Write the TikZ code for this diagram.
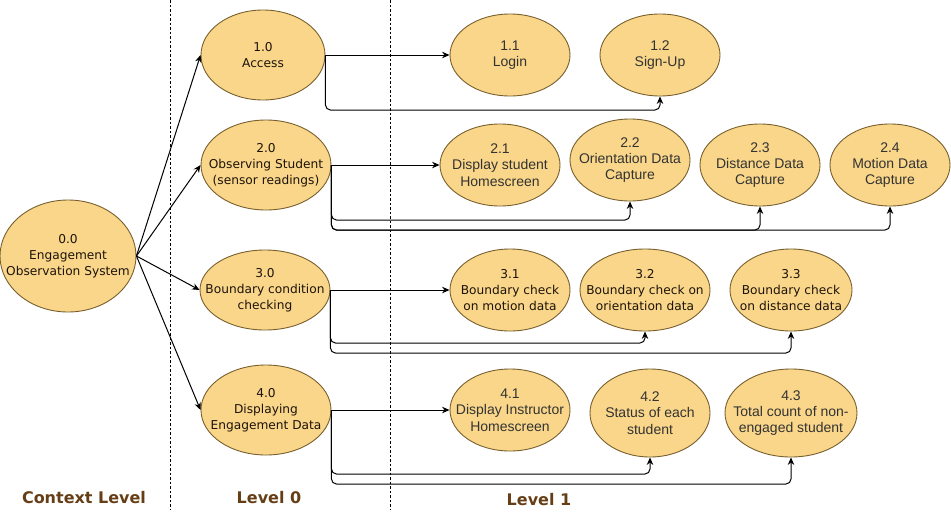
\documentclass[tikz,border=0pt]{standalone}
\usepackage{fontspec}
\setmainfont{Liberation Sans}
\newfontfamily\tahomalike{DejaVu Sans}
\usetikzlibrary{shapes.geometric}
\usetikzlibrary{arrows.meta}
\definecolor{procfill}{RGB}{249,214,137}
\definecolor{procline}{RGB}{120,95,45}
\definecolor{levelbrown}{RGB}{102,62,22}
\tikzset{proc/.style={ellipse,draw=procline,fill=procfill,inner sep=0pt,line width=0.9pt},
    lvlzero/.style={proc,minimum width=130,minimum height=90},
    lvlone/.style={proc,minimum width=120,minimum height=82},
    zerotext/.style={align=center,font=\tahomalike\fontsize{12.2}{16}\selectfont,text=black!85!brown},
    onetext/.style={align=center,font=\fontsize{14}{16.3}\selectfont,text=black!80},
    flow/.style={-{Stealth[length=7.5pt,width=6.5pt]},line width=1pt,rounded corners=5},
    levelname/.style={font=\tahomalike\bfseries\fontsize{16}{18}\selectfont,text=levelbrown},
    divider/.style={dash pattern=on 2.5pt off 2pt,line width=0.8pt}
}
\begin{document}
\begin{tikzpicture}[x=1pt,y=-1pt]
           \useasboundingbox (0,0) rectangle (951,525);
           \draw[divider] (170,0) -- (170,510);
           \draw[divider] (390,0) -- (390,510);
           % context level
           \node[proc,minimum width=136,minimum height=112,label={[zerotext]center:{0.0\\Engagement\\Observation System}}] (ctx) at (68,256) {};
           % level 0
           \node[lvlzero,minimum width=124,label={[zerotext]center:{1.0\\Access}}] (acc) at (263,55) {};
           \node[lvlzero,label={[zerotext]center:{2.0\\Observing Student\\(sensor readings)}}] (obs) at (266,165) {};
           \node[lvlzero,minimum height=80,label={[zerotext]center:{3.0\\Boundary condition\\checking}}] (bnd) at (265,290) {};
           \node[lvlzero,label={[zerotext]center:{4.0\\Displaying\\Engagement Data}}] (dsp) at (266,410) {};
           % level 1
           \node[lvlone,label={[onetext]center:{1.1\\Login}}] (login) at (510,55) {};
           \node[lvlone,label={[onetext]center:{1.2\\Sign-Up}}] (signup) at (660,55) {};
           \node[lvlone,label={[onetext]center:{2.1\\Display student\\Homescreen}}] (homes) at (500,165) {};
           \node[lvlone,label={[onetext]center:{2.2\\Orientation Data\\Capture}}] (orcap) at (630,160) {};
           \node[lvlone,label={[onetext]center:{2.3\\Distance Data\\Capture}}] (dicap) at (760,165) {};
           \node[lvlone,label={[onetext]center:{2.4\\Motion Data\\Capture}}] (mocap) at (890,165) {};
           \node[lvlone,label={[zerotext]center:{3.1\\Boundary check\\on motion data}}] (bmot) at (510,290) {};
           \node[lvlone,minimum width=130,label={[zerotext]center:{3.2\\Boundary check on\\orientation data}}] (bori) at (645,290) {};
           \node[lvlone,minimum width=122,label={[zerotext]center:{3.3\\Boundary check\\on distance data}}] (bdis) at (791,290) {};
           \node[lvlone,label={[onetext]center:{4.1\\Display Instructor\\Homescreen}}] (ihome) at (510,410) {};
           \node[lvlone,minimum height=88,label={[onetext]center:{4.2\\Status of each\\student}}] (stat) at (650,413) {};
           \node[lvlone,minimum width=132,minimum height=88,label={[onetext]center:{4.3\\Total count of non-\\engaged student}}] (tot) at (791,413) {};
           % flows
           \foreach \p in {acc,obs,bnd,dsp}
               \draw[flow] (ctx.east) -- (\p.west);
           \draw[flow] (acc.east) -- (login.west);
           \draw[flow] (acc.east) -- ++(0,55) -| (signup.south);
           \draw[flow] (obs.east) -- (homes.west);
           \draw[flow] (obs.east) -- ++(0,55) -| (orcap.south);
           \draw[flow] (obs.east) -- ++(0,65) -| (dicap.south);
           \draw[flow] (obs.east) -- ++(0,65) -| (mocap.south);
           \draw[flow] (bnd.east) -- (bmot.west);
           \draw[flow] (bnd.east) -- ++(0,53) -| (bori.south);
           \draw[flow] (bnd.east) -- ++(0,63) -| (bdis.south);
           \draw[flow] (dsp.east) -- (ihome.west);
           \draw[flow] (dsp.east) -- ++(0,64) -| (stat.south);
           \draw[flow] (dsp.east) -- ++(0,74) -| (tot.south);
           % level names
           \node[levelname] (ctxlevel) at (84,498) {Context Level};
           \node[levelname] (levelzero) at (269,498) {Level 0};
           \node[levelname] (levelone) at (539,500) {Level 1};
\end{tikzpicture}
\end{document}
